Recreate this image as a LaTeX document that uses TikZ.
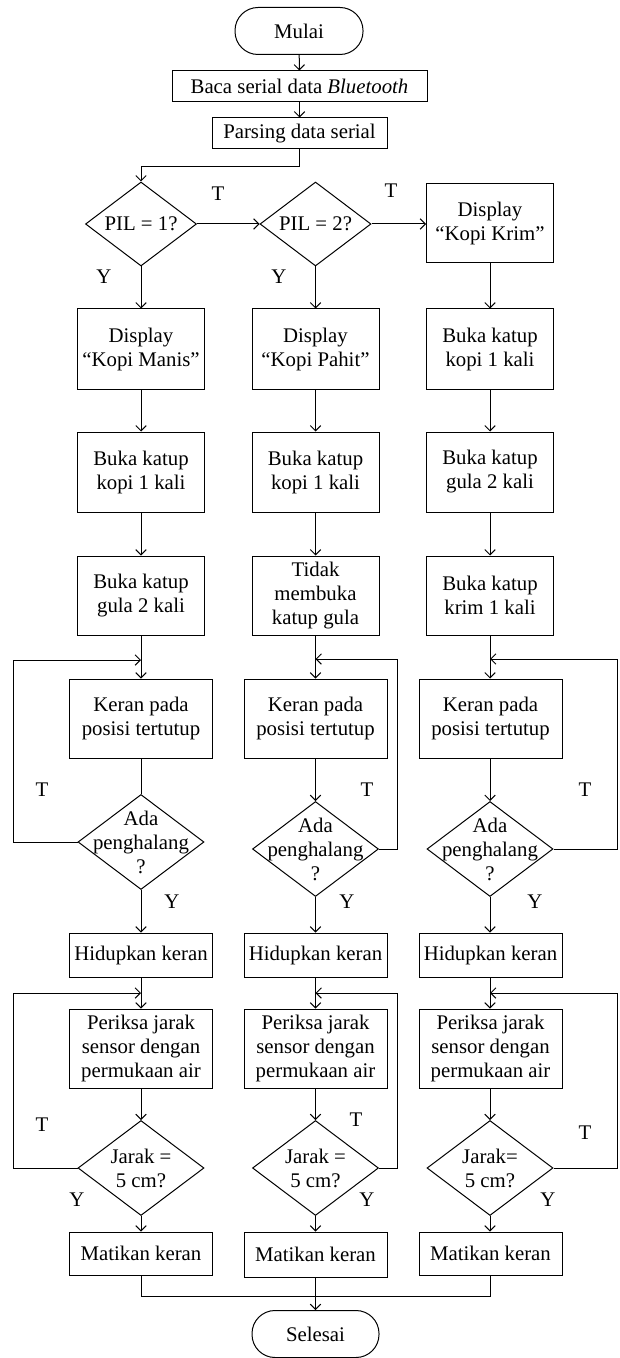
\documentclass[tikz,border=0pt]{standalone}
\usepackage{fontspec}
\setmainfont{Liberation Serif}
\usetikzlibrary{shapes.geometric,arrows.meta}
\begin{document}
\begin{tikzpicture}[x=0.5pt,y=-0.5pt,
  font=\fontsize{10.4}{12}\selectfont,
  line width=0.5pt,
  base/.style={draw, inner sep=0pt, align=center},
  term/.style={base, rounded corners=11.5pt, minimum width=64pt, minimum height=23.5pt},
  nbox/.style={base, minimum width=63.5pt, minimum height=40pt},
  wbox/.style={base, minimum width=71.5pt, minimum height=39.5pt},
  sbox/.style={base, minimum width=71.5pt, minimum height=22pt},
  dia/.style={draw, diamond, inner sep=0pt, minimum width=63pt, minimum height=47.5pt},
  sdia/.style={draw, diamond, inner sep=0pt, minimum width=55.5pt, minimum height=42pt},
  lab/.style={inner sep=0pt},
  arr/.style={-{Straight Barb[length=2.6pt,width=5.2pt]}}
]
\useasboundingbox (0,0) rectangle (620,1358);

% top
\node[term] (start) at (299,31) {Mulai};
\node[base, minimum width=127.5pt, minimum height=15.5pt] (baca) at (299.5,86.5) {Baca serial data \textit{Bluetooth}};
\node[base, minimum width=87.5pt, minimum height=15.5pt] (parse) at (299.5,133.5) {Parsing data serial};

\node[sdia, label={center:{PIL = 1?}}] (d1) at (141,224) {};
\node[sdia, label={center:{PIL = 2?}}] (d2) at (315.5,224) {};
\node[nbox, minimum height=39.5pt] (kk) at (490,223.5) {Display\\``Kopi Krim''};

% column 1
\node[nbox] (a1) at (141,349) {Display\\``Kopi Manis''};
\node[nbox] (b1) at (141,472) {Buka katup\\kopi 1 kali};
\node[nbox, minimum height=39.5pt] (c1) at (141,595.5) {Buka katup\\gula 2 kali};
\node[wbox] (k1) at (141,718.5) {Keran pada\\posisi tertutup};
\node[dia, label={[align=center]center:{Ada\\penghalang\\?}}] (q1) at (141,842) {};
\node[sbox] (h1) at (141,955) {Hidupkan keran};
\node[wbox] (p1) at (141,1048.5) {Periksa jarak\\sensor dengan\\permukaan air};
\node[dia, label={[align=center]center:{Jarak =\\5 cm?}}] (j1) at (141,1168) {};
\node[sbox, minimum height=21.5pt] (m1) at (141,1253.5) {Matikan keran};

% column 2
\node[nbox] (a2) at (315.5,349) {Display\\``Kopi Pahit''};
\node[nbox] (b2) at (315.5,472) {Buka katup\\kopi 1 kali};
\node[nbox, minimum height=39.5pt] (c2) at (315.5,595.5) {Tidak\\membuka\\katup gula};
\node[wbox] (k2) at (315.5,718.5) {Keran pada\\posisi tertutup};
\node[dia, label={[align=center]center:{Ada\\penghalang\\?}}] (q2) at (315.5,849) {};
\node[sbox] (h2) at (315.5,955) {Hidupkan keran};
\node[wbox] (p2) at (315.5,1048.5) {Periksa jarak\\sensor dengan\\permukaan air};
\node[dia, label={[align=center]center:{Jarak =\\5 cm?}}] (j2) at (315.5,1168) {};
\node[sbox, minimum height=22.5pt] (m2) at (315.5,1254.5) {Matikan keran};

% column 3
\node[nbox] (a3) at (490,349) {Buka katup\\kopi 1 kali};
\node[nbox] (b3) at (490,472) {Buka katup\\gula 2 kali};
\node[nbox, minimum height=39.5pt] (c3) at (490,595.5) {Buka katup\\krim 1 kali};
\node[wbox] (k3) at (490.5,718.5) {Keran pada\\posisi tertutup};
\node[dia, label={[align=center]center:{Ada\\penghalang\\?}}] (q3) at (490,849) {};
\node[sbox] (h3) at (490.5,955) {Hidupkan keran};
\node[wbox] (p3) at (490.5,1048.5) {Periksa jarak\\sensor dengan\\permukaan air};
\node[dia, label={[align=center]center:{Jarak=\\5 cm?}}] (j3) at (490,1168) {};
\node[sbox, minimum height=21.5pt] (m3) at (490.5,1253.5) {Matikan keran};

\node[term, minimum width=63.5pt] (end) at (315.5,1334) {Selesai};

% connectors top
\draw[arr] (start) -- (baca);
\draw[arr] (baca) -- (parse);
\draw[arr] (parse.south) -- ++(0,17) -| (d1.north);
\draw[arr] (d1.east) -- (d2.west);
\draw[arr] (d2.east) -- (kk.west |- d2.east);
\draw[arr] (d1.south) -- (a1.north);
\draw[arr] (d2.south) -- (a2.north);
\draw[arr] (kk.south) -- (a3.north);

% column chains
\draw[arr] (a1) -- (b1);
\draw[arr] (b1) -- (c1);
\draw[arr] (c1) -- (k1);
\draw (k1.south) -- (q1.north);
\draw[arr] (q1.south) -- (h1.north);
\draw[arr] (h1) -- (p1);
\draw[arr] (p1.south) -- (j1.north);
\draw[arr] (j1.south) -- (m1.north);

\draw[arr] (a2) -- (b2);
\draw[arr] (b2) -- (c2);
\draw[arr] (c2) -- (k2);
\draw[arr] (k2.south) -- (q2.north);
\draw[arr] (q2.south) -- (h2.north);
\draw[arr] (h2) -- (p2);
\draw[arr] (p2.south) -- (j2.north);
\draw[arr] (j2.south) -- (m2.north);

\draw[arr] (a3) -- (b3);
\draw[arr] (b3) -- (c3);
\draw[arr] (c3.south) -- (k3.north -| c3.south);
\draw[arr] (k3.south -| q3.north) -- (q3.north);
\draw[arr] (q3.south) -- (h3.north -| q3.south);
\draw[arr] (h3.south -| q3.south) -- (p3.north -| q3.south);
\draw[arr] (p3.south -| j3.north) -- (j3.north);
\draw[arr] (j3.south) -- (m3.north -| j3.south);

% loops
\coordinate (l1) at (13,660);
\coordinate (l2) at (397,659);
\coordinate (l3) at (617,659);
\draw[arr] (q1.west) -| (l1) -- (k1.north |- l1);
\draw[arr] (q2.east) -| (l2) -- (k2.north |- l2);
\draw[arr] (q3.east) -| (l3) -- (q3.north |- l3);

\coordinate (r1) at (13,993);
\coordinate (r2) at (397,993);
\coordinate (r3) at (617,993);
\draw[arr] (j1.west) -| (r1) -- (p1.north |- r1);
\draw[arr] (j2.east) -| (r2) -- (p2.north |- r2);
\draw[arr] (j3.east) -| (r3) -- (j3.north |- r3);

% merge
\coordinate (mj) at (315.5,1296);
\draw (m1.south) |- (mj) -| (m3.south -| j3.south);
\draw[arr] (m2.south) -- (end.north);

% labels
\node[lab] (t1) at (218,194) {T};
\node[lab] (t2) at (391,191) {T};
\node[lab] (y1) at (104,277) {Y};
\node[lab] (y2) at (279,277) {Y};
\node[lab] (t3) at (42,790) {T};
\node[lab] (t4) at (367,790) {T};
\node[lab] (t5) at (585,790) {T};
\node[lab] (y3) at (172,902) {Y};
\node[lab] (y4) at (347,902) {Y};
\node[lab] (y5) at (535,902) {Y};
\node[lab] (t6) at (42,1125) {T};
\node[lab] (t7) at (356,1120) {T};
\node[lab] (t8) at (585,1133) {T};
\node[lab] (y6) at (77,1200) {Y};
\node[lab] (y7) at (367,1200) {Y};
\node[lab] (y8) at (548,1200) {Y};
\end{tikzpicture}
\end{document}
